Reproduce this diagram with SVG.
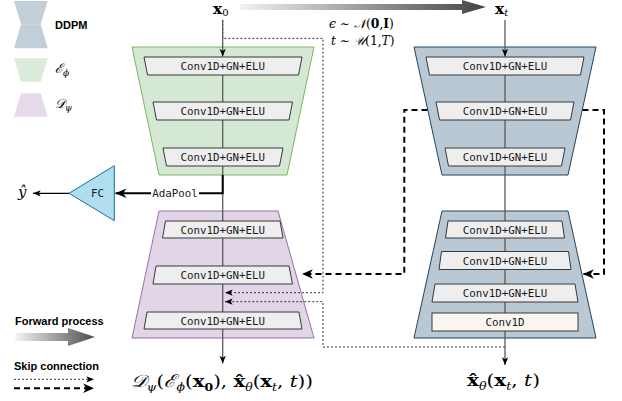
<svg xmlns="http://www.w3.org/2000/svg" width="622" height="401" viewBox="0 0 622 401">
<style>
.box{fill:#eeeeee;stroke:#36393d;stroke-width:1}
.c1d{fill:#f9f7ed;stroke:#36393d;stroke-width:1}
.lbl{font-family:"DejaVu Sans Mono",monospace;font-size:10.8px;fill:#1a1a1a;text-anchor:middle}
.math{font-family:"DejaVu Serif",serif;fill:#000}
.leg{font-family:"Liberation Sans",Arial,sans-serif;font-weight:bold;font-size:11px;fill:#000}
.spine{stroke:#5a5a5a;stroke-width:1.3;fill:none}
.dot{stroke:#333;stroke-width:1;stroke-dasharray:2 2;fill:none}
.dash{stroke:#000;stroke-width:2;stroke-dasharray:6 4;fill:none}
.enc{fill:#d5e8d4;stroke:#82b366;stroke-width:1}
.dec{fill:#e1d5e7;stroke:#9673a6;stroke-width:1}
.ddpm{fill:#bac8d3;stroke:#23445d;stroke-width:1}
</style>
<defs>
<linearGradient id="gTop" gradientUnits="userSpaceOnUse" x1="240" y1="0" x2="486" y2="0">
<stop offset="0" stop-color="#f2f2f2"/><stop offset="1" stop-color="#444"/>
</linearGradient>
<linearGradient id="gLeg" gradientUnits="userSpaceOnUse" x1="15" y1="0" x2="95" y2="0">
<stop offset="0" stop-color="#f5f5f5"/><stop offset="1" stop-color="#4d4d4d"/>
</linearGradient>
<marker id="arr" markerUnits="userSpaceOnUse" markerWidth="9" markerHeight="9" viewBox="0 0 10 10" refX="9.5" refY="5" orient="auto">
<path d="M1,1.5 L9.5,5 L1,8.5 L3,5 z" fill="#000"/>
</marker>
<marker id="arrL" markerUnits="userSpaceOnUse" markerWidth="12" markerHeight="12" viewBox="0 0 10 10" refX="9.5" refY="5" orient="auto">
<path d="M0.5,1 L9.5,5 L0.5,9 L3,5 z" fill="#000"/>
</marker>
</defs>

<g id="legend">
<g id="legend-ddpm">
<polygon points="14,1 47.7,1 40.7,24.3 21,24.3" fill="#bac8d3" opacity="0.88"/>
<polygon points="21,24.3 40.7,24.3 47.7,48.3 14,48.3" fill="#bac8d3" opacity="0.88"/>
<text class="leg" x="55" y="29" font-size="10.5">DDPM</text>
</g>
<g id="legend-enc">
<polygon points="14,58.3 47.7,58.3 40.7,81.7 21,81.7" fill="#d5e8d4" opacity="0.88"/>
<text class="math" x="55" y="73" font-size="13" font-style="italic">ℰ<tspan font-size="9" dy="3">ϕ</tspan></text>
</g>
<g id="legend-dec">
<polygon points="21,93.3 40.7,93.3 47.7,116.7 14,116.7" fill="#e1d5e7" opacity="0.88"/>
<text class="math" x="55" y="108" font-size="13" font-style="italic">𝒟<tspan font-size="9" dy="3">ψ</tspan></text>
</g>
<g id="legend-forward">
<text class="leg" x="15" y="325">Forward process</text>
<polygon points="15,333 68,333 68,328 95,337 68,346 68,341 15,341" fill="url(#gLeg)"/>
</g>
<g id="legend-skip">
<text class="leg" x="14" y="370">Skip connection</text>
<path class="dot" d="M14,379.3 H94" marker-end="url(#arr)"/>
<path class="dash" d="M14,388.3 H94" marker-end="url(#arrL)"/>
</g>
</g>

<g id="forward-arrow">
<polygon points="240,4 462,4 462,0 486,7 462,14 462,10 240,10" fill="url(#gTop)"/>
</g>

<g id="label-x0">
<text class="math" x="213" y="14" font-size="15.5" font-weight="bold">x<tspan font-size="10" font-weight="normal" dy="2">0</tspan></text>
</g>
<g id="label-xt">
<text class="math" x="495" y="14" font-size="15.5" font-weight="bold">x<tspan font-size="10" font-weight="normal" font-style="italic" dy="2">t</tspan></text>
</g>
<g id="label-noise">
<text class="math" x="329" y="28" font-size="12.3"><tspan font-style="italic">ϵ</tspan> ∼ <tspan font-style="italic">𝒩</tspan>(<tspan font-weight="bold">0</tspan>,<tspan font-weight="bold">I</tspan>)</text>
<text class="math" x="331" y="45" font-size="12.3"><tspan font-style="italic">t</tspan> ∼ <tspan font-style="italic">𝒰</tspan>(1,<tspan font-style="italic">T</tspan>)</text>
</g>

<g id="encoder"><polygon class="enc" points="132,47 314,47 287,175 159,175"/></g>
<g id="decoder"><polygon class="dec" points="159,211 278,211 314,338 132,338"/></g>
<g id="ddpm-encoder"><polygon class="ddpm" points="414,47 596,47 568,175 442,175"/></g>
<g id="ddpm-decoder"><polygon class="ddpm" points="442,211 568,211 596,338 414,338"/></g>

<g id="connectors">
<path class="dot" d="M222.7,20 V38.3 H323 V292.7 H225" marker-end="url(#arr)"/>
<path class="dot" d="M505,347 H323 V301.7 H225" marker-end="url(#arr)"/>
<path class="spine" d="M222.7,20 V56.5" marker-end="url(#arr)"/>
<path class="spine" d="M222.7,57 V363.5" marker-end="url(#arr)"/>
<path class="spine" d="M505,20 V56.5" marker-end="url(#arr)"/>
<path class="spine" d="M505,57 V365" marker-end="url(#arr)"/>
<path d="M222.7,175 V193.3 H115.5" fill="none" stroke="#000" stroke-width="2" marker-end="url(#arrL)"/>
<path d="M69,193.3 H33" fill="none" stroke="#000" stroke-width="1.2" marker-end="url(#arr)"/>
<path class="dash" d="M427.5,110 H404.3 V274 H302" marker-end="url(#arrL)"/>
<path class="dash" d="M582.5,110 H604 V274 H583" marker-end="url(#arrL)"/>
<rect x="151" y="187" width="48" height="12" fill="#fff"/>
<text class="lbl" x="175" y="197" font-size="10.4">AdaPool</text>
</g>

<g id="enc-l1"><polygon class="box" points="144,57 302,57 298.5,75 147.5,75"/><text class="lbl" x="222.7" y="70">Conv1D+GN+ELU</text></g>
<g id="enc-l2"><polygon class="box" points="153,102 292.5,102 289,120 156.5,120"/><text class="lbl" x="222.7" y="115">Conv1D+GN+ELU</text></g>
<g id="enc-l3"><polygon class="box" points="163,148 283,148 279.5,166 166.5,166"/><text class="lbl" x="222.7" y="161">Conv1D+GN+ELU</text></g>

<g id="dec-l1"><polygon class="box" points="165.5,221 280,221 283,238 162.5,238"/><text class="lbl" x="222.7" y="233.5">Conv1D+GN+ELU</text></g>
<g id="dec-l2"><polygon class="box" points="156,266 289,266 292.5,284 153,284"/><text class="lbl" x="222.7" y="279">Conv1D+GN+ELU</text></g>
<g id="dec-l3"><polygon class="box" points="147,312 299,312 302,329 144,329"/><text class="lbl" x="222.7" y="324.5">Conv1D+GN+ELU</text></g>

<g id="ddpm-l1"><polygon class="box" points="426,57 584,57 580.5,75 429.5,75"/><text class="lbl" x="505" y="70">Conv1D+GN+ELU</text></g>
<g id="ddpm-l2"><polygon class="box" points="436,102 574,102 570.5,120 439.5,120"/><text class="lbl" x="505" y="115">Conv1D+GN+ELU</text></g>
<g id="ddpm-l3"><polygon class="box" points="445,148 565,148 561.5,166 448.5,166"/><text class="lbl" x="505" y="161">Conv1D+GN+ELU</text></g>
<g id="ddpm-l4"><polygon class="box" points="448,221 562,221 564.5,238 445.5,238"/><text class="lbl" x="505" y="233.5">Conv1D+GN+ELU</text></g>
<g id="ddpm-l5"><polygon class="box" points="441.5,251.5 568.5,251.5 571,269.5 439,269.5"/><text class="lbl" x="505" y="264.5">Conv1D+GN+ELU</text></g>
<g id="ddpm-l6"><polygon class="box" points="435,284 575,284 578,302 432,302"/><text class="lbl" x="505" y="297">Conv1D+GN+ELU</text></g>
<g id="ddpm-l7"><rect class="c1d" x="432" y="313" width="146" height="18"/><text class="lbl" x="505" y="326">Conv1D</text></g>

<g id="fc">
<polygon points="114.3,165.7 114.3,220.7 69,193.3" fill="#b1ddf0" stroke="#10739e" stroke-width="1"/>
<text class="lbl" x="97.5" y="196.8" font-size="10">FC</text>
</g>
<g id="label-yhat"><text class="math" x="18" y="197" font-size="15" font-style="italic">ŷ</text></g>

<g id="label-out-left">
<text class="math" x="131" y="387" font-size="17.5" textLength="182" lengthAdjust="spacingAndGlyphs"><tspan font-style="italic">𝒟</tspan><tspan font-size="11" font-style="italic" dy="4">ψ</tspan><tspan dy="-4">(</tspan><tspan font-style="italic">ℰ</tspan><tspan font-size="11" font-style="italic" dy="4">ϕ</tspan><tspan dy="-4">(</tspan><tspan font-weight="bold">x</tspan><tspan font-size="11" font-weight="bold" dy="4">0</tspan><tspan dy="-4">), </tspan><tspan font-weight="bold">x̂</tspan><tspan font-size="11" font-style="italic" dy="4">θ</tspan><tspan dy="-4">(</tspan><tspan font-weight="bold">x</tspan><tspan font-size="11" font-style="italic" dy="4">t</tspan><tspan dy="-4">, </tspan><tspan font-style="italic">t</tspan>))</text>
</g>
<g id="label-out-right">
<text class="math" x="467" y="386" font-size="17.5" textLength="73" lengthAdjust="spacingAndGlyphs"><tspan font-weight="bold">x̂</tspan><tspan font-size="11" font-style="italic" dy="4">θ</tspan><tspan dy="-4">(</tspan><tspan font-weight="bold">x</tspan><tspan font-size="11" font-style="italic" dy="4">t</tspan><tspan dy="-4">, </tspan><tspan font-style="italic">t</tspan>)</text>
</g>
</svg>
